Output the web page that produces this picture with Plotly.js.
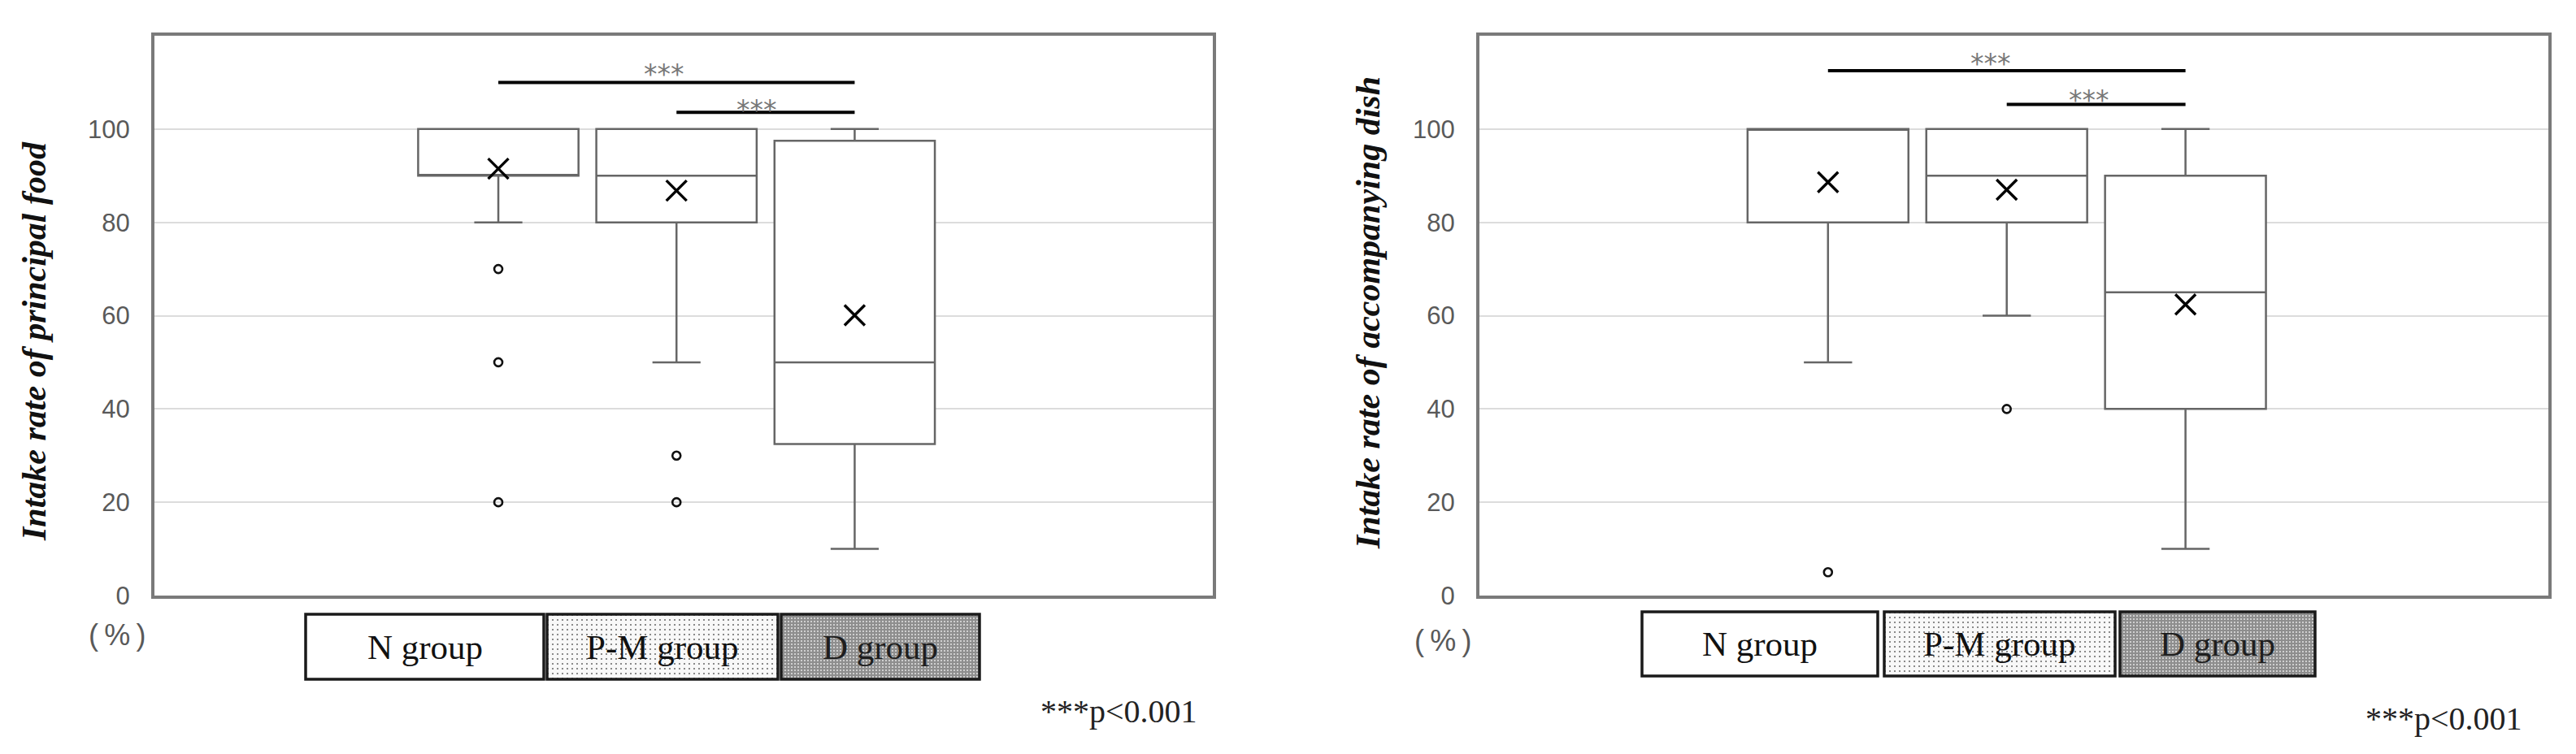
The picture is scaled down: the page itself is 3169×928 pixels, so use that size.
<!DOCTYPE html>
<html>
<head>
<meta charset="utf-8">
<script src="https://cdn.plot.ly/plotly-3.0.1.min.js"></script>
<style>html,body{margin:0;padding:0;background:#fff;}#chart{width:3169px;height:928px;}</style>
</head>
<body>
<div id="chart"></div>
<script>
// ---------- data ----------
const categories = ['N group', 'P-M group', 'D group'];
const yTicks = [0, 20, 40, 60, 80, 100];

// Intake rate of principal food
const pfQ1 = [90, 80, 32.5];
const pfMedian = [90, 90, 50];
const pfQ3 = [100, 100, 97.5];
const pfLower = [80, 50, 10];
const pfUpper = [100, 100, 100];
const pfMean = [91.5, 86.8, 60.1];
const pfOutlierGroup = ['N group', 'N group', 'N group', 'P-M group', 'P-M group'];
const pfOutlierValue = [70, 50, 20, 30, 20];
const pfSigFrom = ['N group', 'P-M group'];
const pfSigTo = ['D group', 'D group'];
const pfSigLevel = [110, 103.6];
const pfSigLabelX = [0.93, 1.45];
const pfSigLabelY = [113.4, 105.6];

// Intake rate of accompanying dish
const adQ1 = [80, 80, 40];
const adMedian = [100, 90, 65];
const adQ3 = [100, 100, 90];
const adLower = [50, 60, 10];
const adUpper = [100, 100, 100];
const adMean = [88.6, 87, 62.4];
const adOutlierGroup = ['N group', 'P-M group'];
const adOutlierValue = [5, 40];
const adSigFrom = ['N group', 'P-M group'];
const adSigTo = ['D group', 'D group'];
const adSigLevel = [112.5, 105.3];
const adSigLabelX = [0.91, 1.46];
const adSigLabelY = [115.6, 107.8];

const sigLabel = '***';
const pLabel = '***p<0.001';
const unitLabel = '(\u2009%\u2009)';
const titles = ['Intake rate of principal food', 'Intake rate of accompanying dish'];

// ---------- helpers ----------
const W = 3169, H = 928;
const px = x => x / W;
const py = y => 1 - y / H;
const SERIF = 'Liberation Serif, Times New Roman, serif';
const SANS = 'Liberation Sans, Arial, sans-serif';

function panelTraces(ax, q1, med, q3, lo, hi, mean, oG, oV, sFrom, sTo, sLev) {
  const xa = ax === 1 ? 'x' : 'x2', ya = ax === 1 ? 'y' : 'y2';
  const tr = [];
  tr.push({
    type: 'box', xaxis: xa, yaxis: ya, x: categories,
    q1: q1, median: med, q3: q3, lowerfence: lo, upperfence: hi,
    boxpoints: false, width: 0.9, whiskerwidth: 0.3,
    fillcolor: '#ffffff', line: {color: '#666666', width: 2.5},
    showlegend: false, hoverinfo: 'skip'
  });
  tr.push({
    type: 'scatter', mode: 'markers', xaxis: xa, yaxis: ya,
    x: categories, y: mean,
    marker: {symbol: 'x-thin-open', size: 25, line: {color: '#000', width: 3.4}, color: '#000'},
    showlegend: false, hoverinfo: 'skip'
  });
  tr.push({
    type: 'scatter', mode: 'markers', xaxis: xa, yaxis: ya,
    x: oG, y: oV,
    marker: {symbol: 'circle-open', size: 10, line: {color: '#111', width: 2.6}, color: '#111'},
    showlegend: false, hoverinfo: 'skip'
  });
  for (let i = 0; i < sFrom.length; i++) {
    tr.push({
      type: 'scatter', mode: 'lines', xaxis: xa, yaxis: ya,
      x: [sFrom[i], sTo[i]], y: [sLev[i], sLev[i]],
      line: {color: '#000', width: 4},
      showlegend: false, hoverinfo: 'skip'
    });
  }
  return tr;
}

const data = [].concat(
  panelTraces(1, pfQ1, pfMedian, pfQ3, pfLower, pfUpper, pfMean, pfOutlierGroup, pfOutlierValue, pfSigFrom, pfSigTo, pfSigLevel),
  panelTraces(2, adQ1, adMedian, adQ3, adLower, adUpper, adMean, adOutlierGroup, adOutlierValue, adSigFrom, adSigTo, adSigLevel)
);

const yDomain = [py(733), py(44)];
function yAxis() {
  return {
    domain: yDomain, range: [0, 120], tickvals: yTicks, ticktext: yTicks.map(String),
    showgrid: true, gridcolor: '#dcdcdc', gridwidth: 2, zeroline: false,
    showline: true, mirror: true, linecolor: '#7a7a7a', linewidth: 4,
    ticks: '', ticklabelstandoff: 20,
    tickfont: {family: SANS, size: 31, color: '#595959'},
    fixedrange: true
  };
}
function xAxis(d, r) {
  return {
    domain: d, type: 'category', categoryorder: 'array', categoryarray: categories,
    range: r, showticklabels: false, ticks: '', showgrid: false, zeroline: false,
    showline: true, mirror: true, linecolor: '#7a7a7a', linewidth: 4, fixedrange: true
  };
}

const annotations = [];
const shapes = [];
const images = [];

function dotSvg(w, h, bg, dot, step, ds) {
  const svg = "<svg xmlns='http://www.w3.org/2000/svg' width='" + w + "' height='" + h + "'>" +
    "<defs><pattern id='p' width='" + step + "' height='" + step + "' patternUnits='userSpaceOnUse'>" +
    "<rect width='" + step + "' height='" + step + "' fill='" + bg + "'/>" +
    "<rect x='0' y='0' width='" + ds + "' height='" + ds + "' fill='" + dot + "'/>" +
    "</pattern></defs><rect width='" + w + "' height='" + h + "' fill='url(#p)'/></svg>";
  return 'data:image/svg+xml;utf8,' + encodeURIComponent(svg);
}

function addPanelDecor(xa, ya, sigX, sigY, boxes, ly, unitPos, pPos, titlePos, title) {
  // significance stars
  for (let i = 0; i < sigX.length; i++) {
    annotations.push({
      xref: xa, yref: ya, x: sigX[i], y: sigY[i] - 1.6, text: sigLabel, showarrow: false,
      font: {family: 'DejaVu Sans, sans-serif', size: 33, color: '#777777'}, xanchor: 'center', yanchor: 'middle'
    });
  }
  // y title
  annotations.push({
    xref: 'paper', yref: 'paper', x: px(titlePos[0]), y: py(titlePos[1]), text: '<b><i>' + title + '</i></b>',
    textangle: -90, showarrow: false, xanchor: 'center', yanchor: 'middle',
    font: {family: SERIF, size: 42, color: '#111'}
  });
  // unit
  annotations.push({
    xref: 'paper', yref: 'paper', x: px(unitPos[0]), y: py(unitPos[1]), text: unitLabel,
    showarrow: false, xanchor: 'center', yanchor: 'middle',
    font: {family: SANS, size: 36, color: '#595959'}
  });
  // p-value note
  annotations.push({
    xref: 'paper', yref: 'paper', x: px(pPos[0]), y: py(pPos[1]), text: pLabel,
    showarrow: false, xanchor: 'center', yanchor: 'middle',
    font: {family: SERIF, size: 40, color: '#222'}
  });
  // legend boxes
  const fills = [
    null,
    {bg: '#f8f8f8', dot: '#8a8a8a', step: 6, ds: 2},
    {bg: '#8e8e8e', dot: '#cfcfcf', step: 4, ds: 2}
  ];
  boxes.forEach((b, i) => {
    if (fills[i]) {
      images.push({
        source: dotSvg(b[1] - b[0], ly[1] - ly[0], fills[i].bg, fills[i].dot, fills[i].step, fills[i].ds),
        xref: 'paper', yref: 'paper', x: px(b[0]), y: py(ly[0]),
        sizex: (b[1] - b[0]) / W, sizey: (ly[1] - ly[0]) / H,
        sizing: 'stretch', xanchor: 'left', yanchor: 'top', layer: 'above'
      });
    }
    shapes.push({
      type: 'rect', xref: 'paper', yref: 'paper',
      x0: px(b[0]), x1: px(b[1]), y0: py(ly[1]), y1: py(ly[0]),
      line: {color: '#1a1a1a', width: 3.5}, fillcolor: 'rgba(0,0,0,0)', layer: 'above'
    });
    annotations.push({
      xref: 'paper', yref: 'paper', x: px((b[0] + b[1]) / 2), y: py((ly[0] + ly[1]) / 2),
      text: categories[i], showarrow: false, xanchor: 'center', yanchor: 'middle',
      font: {family: SERIF, size: 43, color: i === 2 ? '#1e1e1e' : '#111'}
    });
  });
}

addPanelDecor('x', 'y', pfSigLabelX, pfSigLabelY,
  [[376, 669], [673, 957], [961, 1205]], [756, 836], [144, 781], [1376, 875], [42, 420], titles[0]);
addPanelDecor('x2', 'y2', adSigLabelX, adSigLabelY,
  [[2020, 2310], [2318, 2602], [2608, 2848]], [753, 832], [1775, 788], [3006, 884], [1683, 385], titles[1]);

const layout = {
  width: W, height: H,
  margin: {l: 0, r: 0, t: 0, b: 0},
  paper_bgcolor: '#ffffff', plot_bgcolor: '#ffffff',
  showlegend: false,
  xaxis: xAxis([px(190), px(1492)], [-1.93, 4.01]),
  yaxis: Object.assign(yAxis(), {anchor: 'x'}),
  xaxis2: Object.assign(xAxis([px(1820), px(3135)], [-1.95, 4.03]), {anchor: 'y2'}),
  yaxis2: Object.assign(yAxis(), {anchor: 'x2'}),
  annotations: annotations,
  shapes: shapes,
  images: images
};
layout.xaxis.anchor = 'y';

Plotly.newPlot('chart', data, layout, {staticPlot: true, displayModeBar: false});
</script>
</body>
</html>
